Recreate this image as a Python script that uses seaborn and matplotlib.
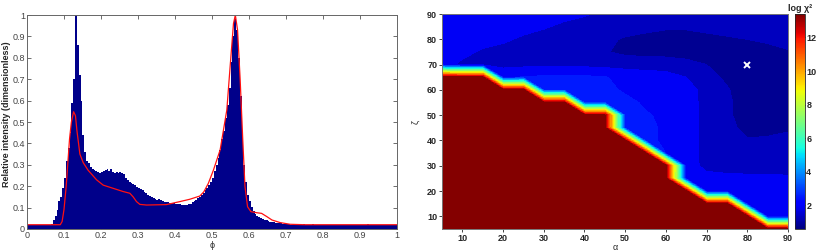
import numpy as np
import pandas as pd
import matplotlib
matplotlib.use("Agg")
import matplotlib.pyplot as plt
import seaborn as sns
from matplotlib.colors import Normalize
from matplotlib.cm import ScalarMappable

# ---- left panel: intensity histogram (bin width 0.005 over 0..1) ----
BIN_WIDTH = 0.005
INTENSITY = [
    0.017, 0.017, 0.017, 0.017, 0.017, 0.017, 0.017, 0.017, 0.017, 0.017,
    0.017, 0.018, 0.02, 0.025, 0.04, 0.06, 0.09, 0.13, 0.15, 0.19,
    0.24, 0.32, 0.38, 0.45, 0.59, 0.70, 1.00, 0.86, 0.72, 0.60,
    0.44, 0.36, 0.32, 0.31, 0.29, 0.28, 0.275, 0.27, 0.265, 0.26,
    0.265, 0.27, 0.275, 0.28, 0.27, 0.28, 0.265, 0.26, 0.265, 0.26,
    0.265, 0.26, 0.255, 0.24, 0.23, 0.22, 0.215, 0.21, 0.205, 0.195,
    0.19, 0.185, 0.18, 0.175, 0.17, 0.16, 0.155, 0.15, 0.145, 0.14,
    0.135, 0.14, 0.135, 0.13, 0.128, 0.125, 0.125, 0.122, 0.12, 0.12,
    0.118, 0.117, 0.115, 0.112, 0.11, 0.112, 0.112, 0.115, 0.118, 0.125,
    0.13, 0.135, 0.145, 0.15, 0.16, 0.17, 0.18, 0.19, 0.205, 0.22,
    0.24, 0.27, 0.30, 0.33, 0.37, 0.42, 0.46, 0.52, 0.58, 0.66,
    0.78, 0.90, 0.98, 0.93, 0.80, 0.62, 0.45, 0.30, 0.22, 0.16,
    0.13, 0.105, 0.085, 0.07, 0.062, 0.055, 0.05, 0.045, 0.042, 0.04,
    0.037, 0.035, 0.033, 0.031, 0.03, 0.028, 0.027, 0.026, 0.025, 0.024,
    0.022, 0.021, 0.02, 0.02, 0.02, 0.02, 0.02, 0.025, 0.02, 0.025,
    0.02, 0.02, 0.02, 0.02, 0.025, 0.02, 0.02, 0.02, 0.02, 0.02,
    0.02, 0.02, 0.02, 0.02, 0.02, 0.02, 0.02, 0.02, 0.02, 0.02,
    0.02, 0.02, 0.02, 0.02, 0.02, 0.02, 0.02, 0.02, 0.02, 0.02,
    0.02, 0.02, 0.02, 0.02, 0.025, 0.02, 0.02, 0.02, 0.02, 0.02,
    0.02, 0.02, 0.02, 0.02, 0.02, 0.02, 0.02, 0.02, 0.02, 0.02,
]

# fitted model curve (red)
MODEL_PHI = [0.0, 0.09, 0.095, 0.10, 0.106, 0.115, 0.12, 0.126, 0.131, 0.135,
             0.143, 0.152, 0.165, 0.188, 0.206, 0.233, 0.26, 0.278, 0.287, 0.296,
             0.305, 0.323, 0.377, 0.413, 0.44, 0.467, 0.478, 0.49, 0.504, 0.522,
             0.54, 0.549, 0.558, 0.563, 0.569, 0.576, 0.583, 0.589, 0.596, 0.605,
             0.621, 0.634, 0.648, 0.662, 0.684, 0.711, 0.75, 1.0]
MODEL_INTENSITY = [0.02, 0.02, 0.035, 0.09, 0.20, 0.42, 0.50, 0.548, 0.53, 0.46,
                   0.35, 0.31, 0.275, 0.23, 0.205, 0.19, 0.175, 0.167, 0.15, 0.128,
                   0.115, 0.112, 0.114, 0.128, 0.139, 0.154, 0.174, 0.213, 0.276, 0.37,
                   0.556, 0.76, 0.96, 1.0, 0.93, 0.70, 0.42, 0.20, 0.104, 0.081,
                   0.076, 0.073, 0.058, 0.042, 0.03, 0.022, 0.02, 0.02]

# ---- right panel: log chi^2 map ----
ALPHA = [5, 10, 15, 20, 25, 30, 35, 40, 45, 50, 55, 60, 65, 70, 75, 80, 85, 90]
ZETA = [5, 10, 15, 20, 25, 30, 35, 40, 45, 50, 55, 60, 65, 70, 75, 80, 85, 90]
LOG_CHI2 = [
    # zeta = 5
    [13.3, 13.3, 13.3, 13.3, 13.3, 13.3, 13.3, 13.3, 13.3, 13.3, 13.3, 13.3, 13.3, 13.3, 13.3, 13.3, 13.3, 13.3],
    # zeta = 10
    [13.3, 13.3, 13.3, 13.3, 13.3, 13.3, 13.3, 13.3, 13.3, 13.3, 13.3, 13.3, 13.3, 13.3, 13.3, 13.3, 1.9, 1.9],
    # zeta = 15
    [13.3, 13.3, 13.3, 13.3, 13.3, 13.3, 13.3, 13.3, 13.3, 13.3, 13.3, 13.3, 13.3, 13.3, 13.3, 1.9, 1.9, 1.9],
    # zeta = 20
    [13.3, 13.3, 13.3, 13.3, 13.3, 13.3, 13.3, 13.3, 13.3, 13.3, 13.3, 13.3, 13.3, 1.9, 1.9, 1.9, 1.85, 1.85],
    # zeta = 25
    [13.3, 13.3, 13.3, 13.3, 13.3, 13.3, 13.3, 13.3, 13.3, 13.3, 13.3, 13.3, 1.9, 1.85, 1.8, 1.75, 1.75, 1.7],
    # zeta = 30
    [13.3, 13.3, 13.3, 13.3, 13.3, 13.3, 13.3, 13.3, 13.3, 13.3, 13.3, 13.3, 1.95, 1.4, 1.3, 1.3, 1.3, 1.3],
    # zeta = 35
    [13.3, 13.3, 13.3, 13.3, 13.3, 13.3, 13.3, 13.3, 13.3, 13.3, 13.3, 2.1, 1.95, 1.35, 1.3, 1.25, 1.25, 1.25],
    # zeta = 40
    [13.3, 13.3, 13.3, 13.3, 13.3, 13.3, 13.3, 13.3, 13.3, 13.3, 2.5, 2.0, 1.95, 1.35, 1.25, 1.05, 1.1, 1.1],
    # zeta = 45
    [13.3, 13.3, 13.3, 13.3, 13.3, 13.3, 13.3, 13.3, 13.3, 2.55, 2.5, 2.0, 1.95, 1.35, 1.2, 0.8, 0.8, 0.95],
    # zeta = 50
    [13.3, 13.3, 13.3, 13.3, 13.3, 13.3, 13.3, 13.3, 13.3, 2.6, 2.3, 2.0, 1.95, 1.35, 1.1, 0.75, 0.75, 0.75],
    # zeta = 55
    [13.3, 13.3, 13.3, 13.3, 13.3, 13.3, 13.3, 2.6, 2.6, 2.5, 2.05, 1.95, 1.95, 1.35, 1.1, 0.75, 0.7, 0.75],
    # zeta = 60
    [13.3, 13.3, 13.3, 13.3, 13.3, 2.6, 2.6, 2.55, 2.5, 2.05, 1.95, 1.95, 1.9, 1.35, 1.05, 0.7, 0.7, 0.8],
    # zeta = 65
    [13.3, 13.3, 13.3, 2.0, 2.25, 2.3, 2.3, 2.3, 2.25, 1.95, 1.9, 1.85, 1.6, 1.2, 0.9, 0.65, 0.65, 0.75],
    # zeta = 70
    [1.9, 1.45, 1.45, 1.45, 1.45, 1.45, 1.45, 1.45, 1.4, 1.4, 1.35, 1.3, 1.15, 1.0, 0.75, 0.6, 0.65, 0.75],
    # zeta = 75
    [1.9, 1.8, 1.5, 1.4, 1.35, 1.3, 1.3, 1.2, 1.05, 0.85, 0.8, 0.8, 0.8, 0.75, 0.75, 0.75, 0.8, 0.95],
    # zeta = 80
    [1.95, 1.9, 1.85, 1.7, 1.5, 1.4, 1.35, 1.3, 1.1, 0.95, 0.9, 0.85, 0.85, 0.9, 0.95, 1.0, 1.1, 1.2],
    # zeta = 85
    [2.0, 1.95, 1.9, 1.85, 1.8, 1.65, 1.5, 1.4, 1.3, 1.2, 1.1, 1.05, 1.05, 1.1, 1.15, 1.2, 1.25, 1.3],
    # zeta = 90
    [2.0, 2.0, 1.95, 1.9, 1.9, 1.85, 1.75, 1.65, 1.5, 1.4, 1.35, 1.3, 1.3, 1.3, 1.3, 1.3, 1.35, 1.35],
]
BEST_ALPHA = [80]
BEST_ZETA = [70]
CBAR_MIN, CBAR_MAX = 0.57, 13.4

sns.set_style("ticks")
plt.rcParams['font.family'] = ['Liberation Sans', 'DejaVu Sans']
plt.rcParams['font.size'] = 6.5

fig = plt.figure(figsize=(8.17, 2.52), dpi=100)
ax1 = fig.add_axes([0.033, 0.0913, 0.453, 0.849])
ax2 = fig.add_axes([0.541, 0.0913, 0.4235, 0.853])
cax = fig.add_axes([0.973, 0.0913, 0.0122, 0.853])

# left: histogram + model curve
centers = BIN_WIDTH / 2 + BIN_WIDTH * np.arange(len(INTENSITY))
hist_df = pd.DataFrame({'phi': centers, 'intensity': INTENSITY})
sns.histplot(data=hist_df, x='phi', weights='intensity', binwidth=BIN_WIDTH,
             binrange=(0, 1), color='#00008a', alpha=1, linewidth=0, ax=ax1)
sns.lineplot(x=MODEL_PHI, y=MODEL_INTENSITY, color='#ff1010', linewidth=0.9,
             sort=False, ax=ax1)
ax1.set_xlim(0, 1)
ax1.set_ylim(0, 1)
ticks = np.round(np.arange(0, 1.01, 0.1), 1)
labels = ['0' if t == 0 else ('1' if t == 1 else f'{t:g}') for t in ticks]
ax1.set_xticks(ticks)
ax1.set_yticks(ticks)
ax1.set_xticklabels(labels)
ax1.set_yticklabels(labels)
ax1.tick_params(direction='in', length=3, width=0.6, top=True, right=True,
                labelsize=6.5, labelcolor='#444444', color='#555555', pad=1.5)
for s in ax1.spines.values():
    s.set_color('#666666')
    s.set_linewidth(0.7)
ax1.set_xlabel('ϕ', fontsize=6.5, labelpad=1, color='#333333')
ax1.set_ylabel('')
fig.text(0.008, 0.548, 'Relative intensity (dimensionless)', rotation=90,
         ha='center', va='center', fontsize=6.5, fontweight='bold')

# right: filled contour map
levels = [0.57, 1.0, 1.6, 2.2, 2.8] + list(np.arange(3.4, 13.7, 0.6))
norm = Normalize(CBAR_MIN, CBAR_MAX)
ax2.contourf(ALPHA, ZETA, np.array(LOG_CHI2), levels=levels, cmap='jet', norm=norm)
ax2.plot(BEST_ALPHA, BEST_ZETA, 'x', color='white', markersize=4, mew=1.4)
ax2.set_xlim(5, 90)
ax2.set_ylim(5, 90)
ax2.set_xticks(range(10, 91, 10))
ax2.set_yticks(range(10, 91, 10))
ax2.tick_params(direction='out', length=2, width=0.6, labelsize=6.5, pad=1.5)
for lab in ax2.get_xticklabels() + ax2.get_yticklabels():
    lab.set_fontweight('bold')
for s in ax2.spines.values():
    s.set_color('#777777')
    s.set_linewidth(0.7)
ax2.set_xlabel('α', fontsize=6.5, labelpad=0)
ax2.set_ylabel('ζ', fontsize=6.5, labelpad=5)

# colorbar
sm = ScalarMappable(norm=norm, cmap='jet')
cb = fig.colorbar(sm, cax=cax, ticks=[2, 4, 6, 8, 10, 12])
cb.outline.set_linewidth(0.6)
cax.tick_params(direction='in', length=2, width=0.6, labelsize=6.5, pad=1)
for lab in cax.get_yticklabels():
    lab.set_fontweight('bold')
cax.set_title('log χ²', fontsize=6.5, fontweight='bold', pad=2)

fig.savefig('out.png', dpi=100)
